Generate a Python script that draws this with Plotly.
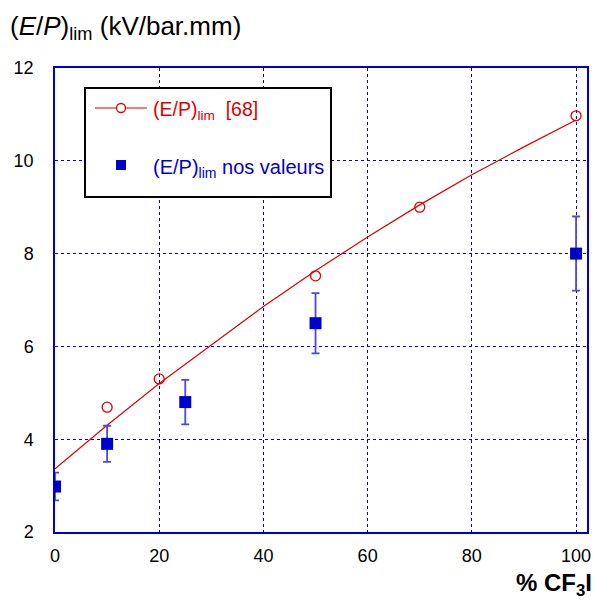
import plotly.graph_objects as go

# Reference curve [68] (fit line) and its points
fit_x = [0, 10, 20, 30, 40, 50, 60, 70, 80, 90, 100]
fit_y = [3.36, 4.30, 5.20, 6.04, 6.86, 7.63, 8.36, 9.05, 9.70, 10.30, 10.88]
ref_x = [10, 20, 50, 70, 100]
ref_y = [4.69, 5.30, 7.52, 9.00, 10.97]

# Our values with error bars
our_x = [0, 10, 25, 50, 100]
our_y = [2.98, 3.90, 4.80, 6.50, 8.00]
our_err = [0.30, 0.39, 0.48, 0.65, 0.80]

x_ticks = [0, 20, 40, 60, 80, 100]
y_ticks = [2, 4, 6, 8, 10, 12]

RED = "#e00000"
BLUE = "#0000cc"
FONT = "Liberation Sans, Arial, sans-serif"

fig = go.Figure()
fig.add_trace(go.Scatter(x=fit_x, y=fit_y, mode="lines",
                         line=dict(color=RED, width=1.2), showlegend=False))
fig.add_trace(go.Scatter(x=ref_x, y=ref_y, mode="markers",
                         marker=dict(symbol="circle-open", size=10, color=RED,
                                     line=dict(width=1.3, color=RED)),
                         showlegend=False))
fig.add_trace(go.Scatter(x=our_x, y=our_y, mode="markers",
                         marker=dict(symbol="square", size=12, color=BLUE),
                         error_y=dict(type="data", array=our_err, color="#4a4add",
                                      thickness=1.8, width=4),
                         showlegend=False))

L, R, T, B = 55, 9, 68, 68
W, H = 596, 600
pw, ph = W - L - R, H - T - B


def px(x):
    return (x - L) / pw


def py(y):
    return (H - B - y) / ph


shapes = [
    dict(type="rect", xref="paper", yref="paper", x0=px(85), x1=px(331),
         y0=py(197), y1=py(88), line=dict(color="black", width=2),
         fillcolor="white", layer="above"),
    dict(type="line", xref="paper", yref="paper", x0=px(95), x1=px(147),
         y0=py(108), y1=py(108), line=dict(color=RED, width=1.2), layer="above"),
    dict(type="circle", xref="paper", yref="paper", xsizemode="pixel", ysizemode="pixel",
         xanchor=px(121), yanchor=py(108), x0=-4.5, x1=4.5, y0=-4.5, y1=4.5,
         line=dict(color=RED, width=1.3), fillcolor="white", layer="above"),
    dict(type="rect", xref="paper", yref="paper", xsizemode="pixel", ysizemode="pixel",
         xanchor=px(121), yanchor=py(165), x0=-5, x1=5, y0=-5, y1=5,
         line=dict(color=BLUE, width=0), fillcolor=BLUE, layer="above"),
]

annotations = [
    dict(text="(E/P)<sub>lim</sub>  [68]", xref="paper", yref="paper",
         x=px(151), y=py(111), xanchor="left", yanchor="middle", showarrow=False,
         font=dict(family=FONT, size=19.5, color=RED)),
    dict(text="(E/P)<sub>lim</sub> nos valeurs", xref="paper", yref="paper",
         x=px(151), y=py(168), xanchor="left", yanchor="middle", showarrow=False,
         font=dict(family=FONT, size=20, color=BLUE)),
    dict(text="(<i>E</i>/<i>P</i>)<sub>lim</sub> (kV/bar.mm)", xref="paper", yref="paper",
         x=px(8), y=py(28), xanchor="left", yanchor="middle", showarrow=False,
         font=dict(family=FONT, size=26, color="black")),
    dict(text="<b>% CF<sub>3</sub>I</b>", xref="paper", yref="paper",
         x=px(594), y=py(584), xanchor="right", yanchor="middle", showarrow=False,
         font=dict(family=FONT, size=24, color="black")),
]

grid = dict(showgrid=True, gridcolor=BLUE, gridwidth=1, griddash="3px,3px")

fig.update_layout(
    width=W, height=H,
    margin=dict(l=L, r=R, t=T, b=B, autoexpand=False),
    paper_bgcolor="white", plot_bgcolor="white",
    font=dict(family=FONT, size=18, color="black"),
    xaxis=dict(range=[0, 102.1], tickvals=x_ticks, **grid, automargin=False,
               showline=True, linecolor=BLUE, linewidth=1.5, mirror=True,
               zeroline=False, ticks="outside", ticklen=7, tickcolor="rgba(0,0,0,0)",
               tickfont=dict(size=18, family=FONT)),
    yaxis=dict(range=[2, 12], tickvals=y_ticks, **grid, automargin=False,
               showline=True, linecolor=BLUE, linewidth=1.5, mirror=True,
               zeroline=False, ticks="outside", ticklen=16, tickcolor="rgba(0,0,0,0)",
               tickfont=dict(size=18, family=FONT)),
    shapes=shapes,
    annotations=annotations,
)

fig.write_html("out.html", config={"displayModeBar": False},
               post_script="document.body.style.margin='0';document.body.style.overflow='hidden';")
